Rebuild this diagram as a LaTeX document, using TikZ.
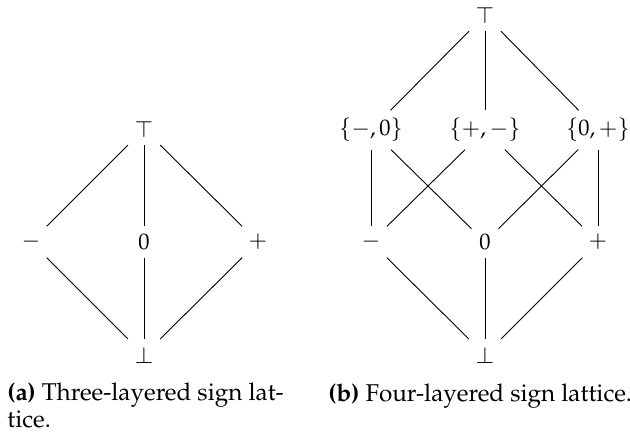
\documentclass[tikz,border=0pt]{standalone}
\usepackage[T1]{fontenc}
\usepackage{mathpazo}
\begin{document}
\begin{tikzpicture}[x=0.4445pt,y=-0.4445pt,
  lat/.style={inner sep=0.333em},
  edge/.style={draw,line width=0.4pt},
  captext/.style={anchor=base west,inner sep=0pt,align=left,font=\fontsize{10.8}{11.6}\selectfont}]
\useasboundingbox (0,0) rectangle (630,438);
% (a)
\node[lat] (at) at (144,129) {$\top$};
\node[lat] (am) at (31,242) {$-$};
\node[lat] (az) at (144,242) {$0$};
\node[lat] (ap) at (258,242) {$+$};
\node[lat] (ab) at (144,355) {$\bot$};
\foreach \u in {am,az,ap} {
  \draw[edge] (at) -- (\u);
  \draw[edge] (\u) -- (ab);
}
% (b)
\node[lat] (bt) at (485,15) {$\top$};
\node[lat] (bmz) at (371,130) {$\{-,0\}$};
\node[lat] (bpm) at (485,130) {$\{+,-\}$};
\node[lat] (bzp) at (598,130) {$\{0,+\}$};
\node[lat] (bm) at (371,242) {$-$};
\node[lat] (bz) at (485,242) {$0$};
\node[lat] (bp) at (598,242) {$+$};
\node[lat] (bb) at (485,355) {$\bot$};
\foreach \u in {bmz,bpm,bzp} \draw[edge] (bt) -- (\u);
\draw[edge] (bmz) -- (bm);
\draw[edge] (bmz) -- (bz);
\draw[edge] (bpm) -- (bm);
\draw[edge] (bpm) -- (bp);
\draw[edge] (bzp) -- (bz);
\draw[edge] (bzp) -- (bp);
\foreach \u in {bm,bz,bp} \draw[edge] (\u) -- (bb);
% captions
\node[captext] (ca) at (7,427) {\textbf{(a)} Three-layered sign lat-\\tice.};
\node[captext] (cb) at (328,401) {\textbf{(b)} Four-layered sign lattice.};
\end{tikzpicture}
\end{document}
